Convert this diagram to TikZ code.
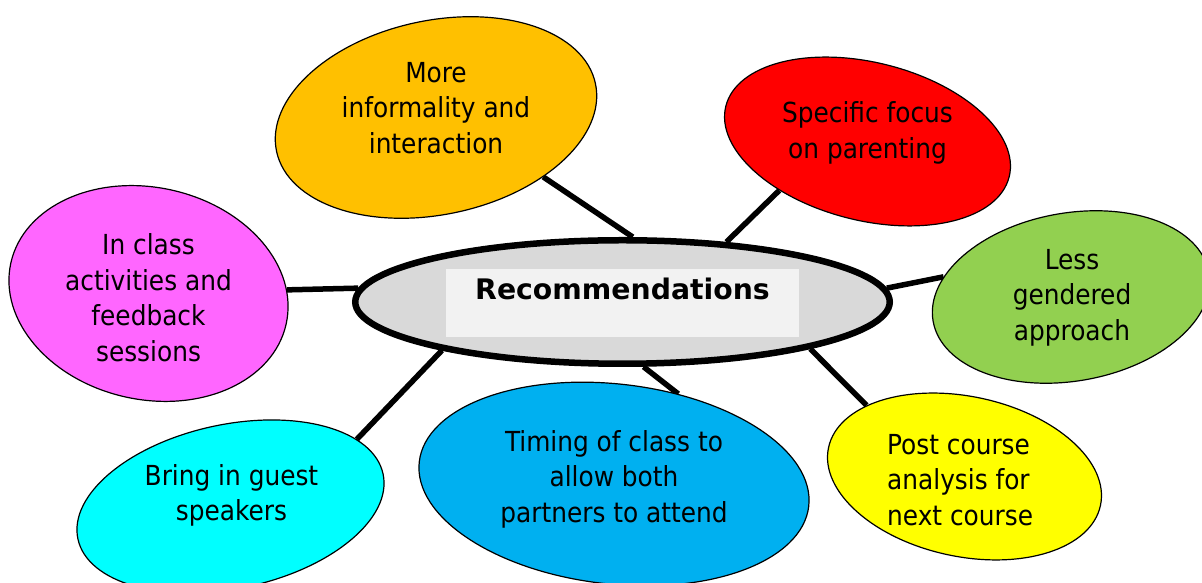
\documentclass[tikz,border=0pt]{standalone}
\usepackage{fontspec}
\setmainfont{DejaVu Sans Condensed}
\newfontfamily\headfont{DejaVu Sans}
\usetikzlibrary{shapes.geometric,backgrounds}
\definecolor{cOrange}{HTML}{FFC000}
\definecolor{cRed}{HTML}{FF0000}
\definecolor{cGreen}{HTML}{92D050}
\definecolor{cYellow}{HTML}{FFFF00}
\definecolor{cBlue}{HTML}{00B0F0}
\definecolor{cCyan}{HTML}{00FFFF}
\definecolor{cPink}{HTML}{FF66FF}
\definecolor{cGray}{HTML}{D9D9D9}
\definecolor{cBox}{HTML}{F2F2F2}
\newcommand{\ml}[1]{\begin{tabular}{@{}c@{}}#1\end{tabular}}
\newcommand{\mll}[1]{\begin{tabular}{@{}l@{}}#1\end{tabular}}

\begin{document}
\begin{tikzpicture}[x=1pt,y=1pt,
  bubble/.style={ellipse,draw,line width=1.2pt,inner sep=0pt},
  txt/.style={font=\fontsize{27.6}{35.5}\selectfont,inner sep=0pt},
  spoke/.style={line width=5.5pt}]
  \useasboundingbox (0,0) rectangle (1202,583);
  \node[bubble,fill=cGray,line width=6.5pt,minimum width=534.5pt,minimum height=123.5pt] (ctr) at (622.5,281) {};
  \node[fill=cBox,inner sep=0pt,minimum width=353pt,minimum height=68pt] (box) at (622.5,280) {};
  \node[anchor=base,inner sep=0pt,font=\headfont\bfseries\fontsize{28.3}{34}\selectfont] (rec) at (622.5,283) {Recommendations};

  \node[bubble,fill=cOrange,rotate=12,minimum width=326pt,minimum height=194pt] (more) at (436,465.5) {};
  \node[bubble,fill=cRed,rotate=-14,minimum width=292pt,minimum height=158pt] (spec) at (867.5,441.5) {};
  \node[bubble,fill=cGreen,rotate=10,minimum width=280pt,minimum height=168pt] (less) at (1071,286) {};
  \node[bubble,fill=cYellow,rotate=-12,minimum width=278pt,minimum height=160pt] (post) at (964.5,106.5) {};
  \node[bubble,fill=cBlue,rotate=-6.5,minimum width=392pt,minimum height=200pt] (time) at (614,99) {};
  \node[bubble,fill=cCyan,rotate=12,minimum width=312pt,minimum height=164pt] (guest) at (230.5,76.5) {};
  \node[bubble,fill=cPink,rotate=-12.5,minimum width=282pt,minimum height=212pt] (incl) at (148.5,289.5) {};

  \node[txt] (moreT) at (436,472.1) {\ml{More\\informality and\\interaction}};
  \node[txt] (specT) at (867.5,449.6) {\ml{Specific focus\\on parenting}};
  \node[txt] (lessT) at (1072,285.1) {\ml{Less\\gendered\\approach}};
  \node[txt,anchor=west] (postT) at (887,100.1) {\mll{Post course\\analysis for\\next course}};
  \node[txt] (timeT) at (614,103.1) {\ml{Timing of class to\\allow both\\partners to attend}};
  \node[txt] (guestT) at (231.5,87.1) {\ml{Bring in guest\\speakers}};
  \node[txt] (inclT) at (148.5,282.1) {\ml{In class\\activities and\\feedback\\sessions}};

  \begin{scope}[on background layer]
    \draw[spoke] (ctr.81.4) -- (more.-41.6);
    \draw[spoke] (ctr.30.1) -- (spec.-137.3);
    \draw[spoke] (ctr.3.2) -- (less.161.6);
    \draw[spoke] (ctr.-14.9) -- (post.156.6);
    \draw[spoke] (ctr.-72.5) -- (time.61.9);
    \draw[spoke] (ctr.-165.4) -- (guest.16.4);
    \draw[spoke] (ctr.177.6) -- (incl.14.5);
  \end{scope}
\end{tikzpicture}
\end{document}
